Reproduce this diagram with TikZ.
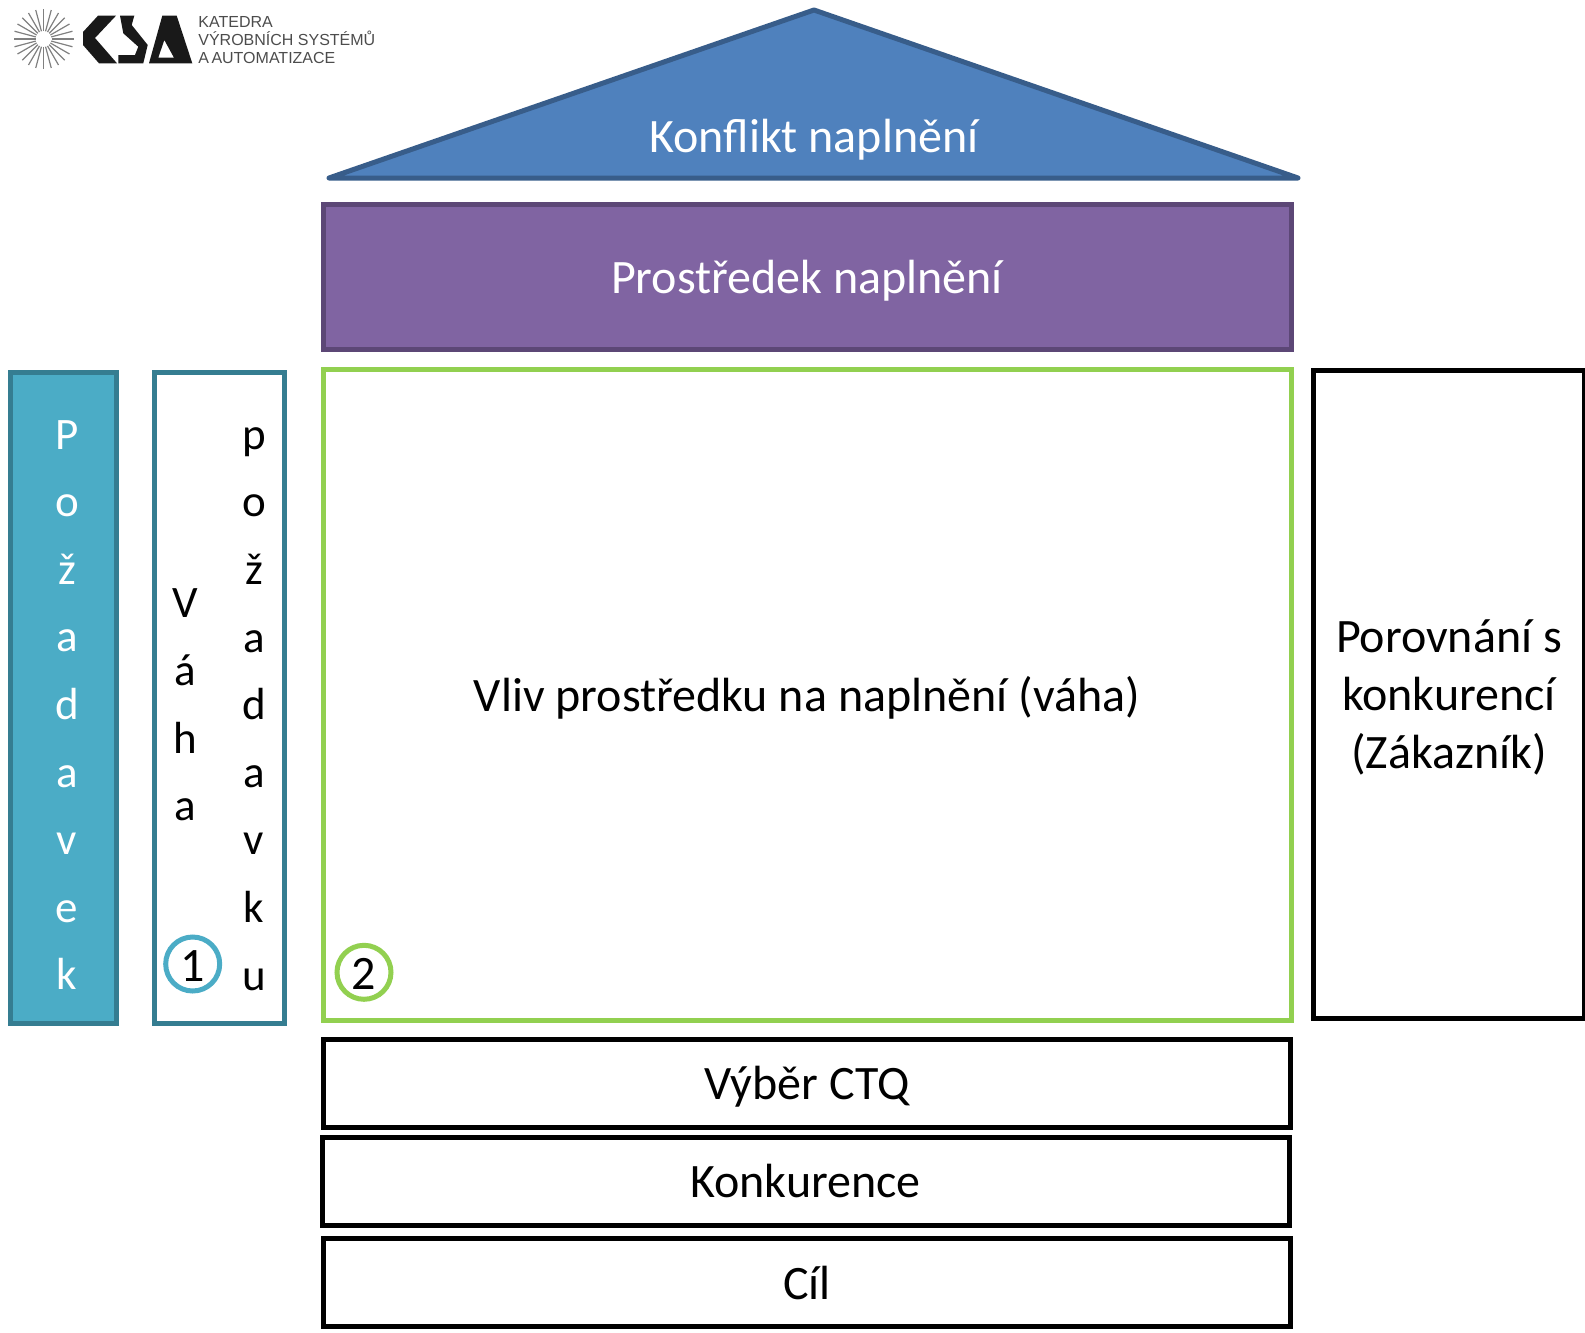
\documentclass[tikz,border=0pt]{standalone}
\usepackage{fontspec}
\setmainfont{Carlito}
\newfontfamily\logofont{Liberation Sans}

\begin{document}
\begin{tikzpicture}[
	x=0.5pt,y=-0.5pt,
	box/.style={draw,rectangle,line width=2.5pt,inner sep=0pt,align=center,font=\fontsize{24}{29}\selectfont},
	oneline/.style={text height=16.8pt,text depth=0pt},
	blackbox/.style={box,oneline,draw=black,minimum width=483.5pt,minimum height=44pt},
	letters/.style={inner sep=0pt,align=center,font=\fontsize{22.5}{33.8}\selectfont},
	badge/.style={draw,circle,line width=2.5pt,minimum size=27pt,inner sep=0pt,text height=17.5pt,text depth=0pt,font=\fontsize{24}{29}\selectfont},
	logotext/.style={inner sep=0pt,anchor=west,text=black!70,font=\logofont\fontsize{8}{9}\selectfont}
	]
	\useasboundingbox (0,0) rectangle (1585,1333);

	% Strecha
	\coordinate (apex) at (814,10);
	\coordinate (roofleft) at (329,178);
	\coordinate (roofright) at (1298,178);
	\draw[line width=2.5pt,line join=round,draw={rgb,255:red,56;green,93;blue,138},fill={rgb,255:red,79;green,129;blue,189}] (apex) -- (roofleft) -- (roofright) -- cycle;
	\node[font=\fontsize{24}{29}\selectfont,text=white,inner sep=0pt] (konflikt) at (814,140) {Konflikt naplnění};

	% Hlavni bloky
	\node[box,oneline,draw={rgb,255:red,92;green,71;blue,118},fill={rgb,255:red,128;green,100;blue,162},text=white,minimum width=484pt,minimum height=72.5pt] (prostredek) at (807,276.5) {Prostředek naplnění};
	\node[box,oneline,draw={rgb,255:red,146;green,208;blue,80},minimum width=484pt,minimum height=325.5pt] (vliv) at (807,695) {Vliv prostředku na naplnění (váha)};
	\node[box,draw=black,minimum width=135.5pt,minimum height=324pt] (porovnani) at (1449,694) {};
	\node[inner sep=0pt,align=center,font=\fontsize{24}{29}\selectfont] (porovnanitext) at (1449,697) {Porovnání s\\konkurencí\\(Zákazník)};

	% Sloupce vlevo
	\node[box,draw={rgb,255:red,53;green,125;blue,145},fill={rgb,255:red,75;green,172;blue,198},minimum width=53pt,minimum height=325.5pt] (pozadavek) at (63.5,698) {};
	\node[letters,text=white] (pismena) at (67,705) {P\\o\\ž\\a\\d\\a\\v\\e\\k};
	\node[box,draw={rgb,255:red,53;green,125;blue,145},minimum width=65pt,minimum height=325.5pt] (vaha) at (219.5,698) {};
	\node[letters] (vahatext) at (185,705) {V\\á\\h\\a};
	\node[letters] (pozadavku) at (254,709) {p\\o\\ž\\a\\d\\a\\v\\k\\u};

	% Cisla
	\node[badge,draw={rgb,255:red,75;green,172;blue,198}] (one) at (192.7,964) {1};
	\node[badge,draw={rgb,255:red,146;green,208;blue,80}] (two) at (364,972.3) {2};

	% Spodni radky
	\node[blackbox] (vyber) at (807,1083) {Výběr CTQ};
	\node[blackbox] (konkurence) at (805.5,1181) {Konkurence};
	\node[blackbox] (cil) at (807,1282.5) {Cíl};

	% Logo
	\foreach \a in {0,15,...,345}
		\draw[black!50,line width=0.6pt] (43.5,39) ++(\a:8) -- ++(\a:22);
	\fill[black!90] (98,15.7) -- (116,15.7) -- (95,38) -- (117,63.3) -- (99,63.3) -- (83,45) -- (83,32) -- cycle;
	\fill[black!90] (120,15.7) -- (134.3,15.7) -- (131.7,25) -- (147.7,45) -- (143.3,63.3) -- (118.3,63.3) -- (118.3,55) -- (135,55) -- (138.3,46.7) -- (123.3,33.3) -- cycle;
	\fill[black!90,even odd rule] (162.3,15.7) -- (176.7,15.7) -- (192.3,63.3) -- (149,63.3) -- cycle (164.3,40) -- (174,57.7) -- (158.3,57.7) -- cycle;
	\node[logotext] (katedra) at (198,22) {KATEDRA};
	\node[logotext] (vyrobnich) at (198,38.5) {VÝROBNÍCH SYSTÉMŮ};
	\node[logotext] (automatizace) at (198,58) {A\kern-1pt{} AUTOMATIZACE};
\end{tikzpicture}
\end{document}
